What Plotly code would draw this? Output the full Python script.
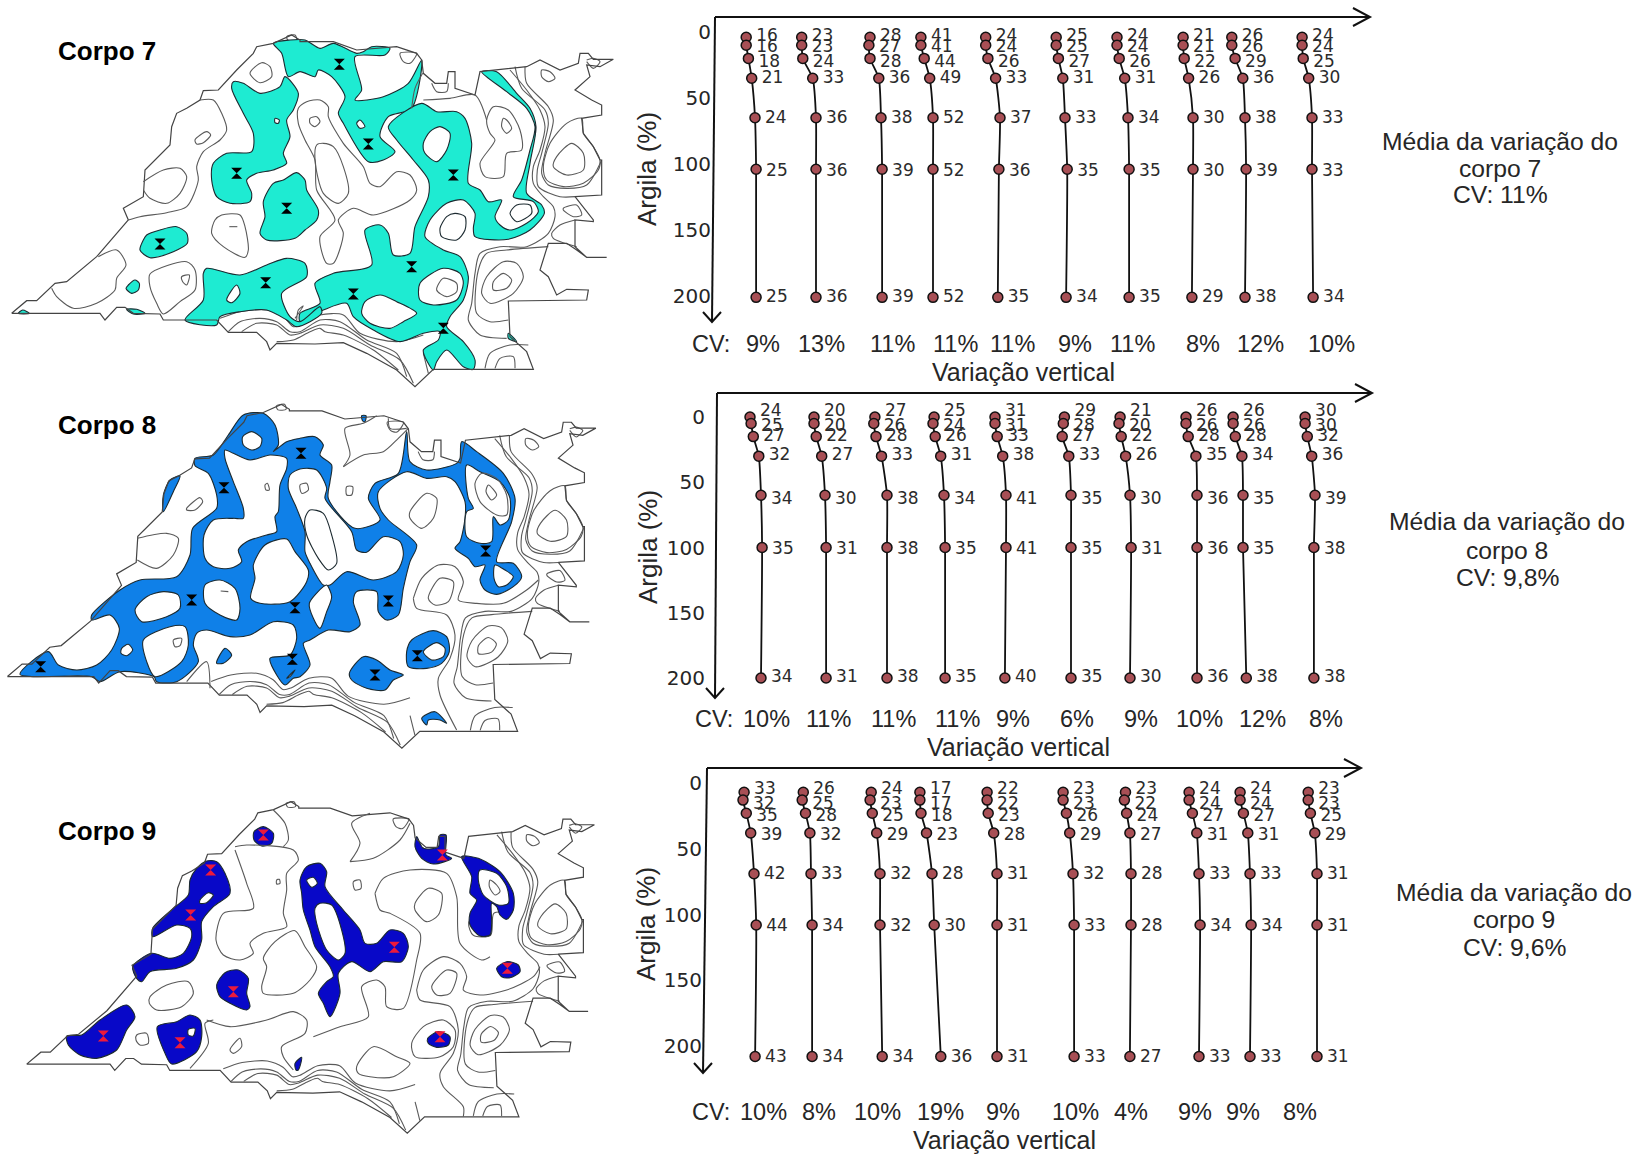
import plotly.graph_objects as go

W, H = 1646, 1155

# ---------------------------------------------------------------- profile data
DEPTH_ROWS = [
    [4, 10, 20, 35, 65, 104, 201],
    [0, 5, 15, 30, 60, 100, 200],
    [7, 13, 23, 38, 69, 108, 208],
]
CLAY_7 = [[16,16,18,21,24,25,25],[23,23,24,33,36,36,36],[28,27,28,36,38,39,39],[41,41,44,49,52,52,52],
          [24,24,26,33,37,36,35],[25,25,27,31,33,35,34],[24,24,26,31,34,35,35],[21,21,22,26,30,30,29],
          [26,26,29,36,38,39,38],[24,24,25,30,33,33,34]]
CLAY_8 = [[24,25,27,32,34,35,34],[20,20,22,27,30,31,31],[27,26,28,33,38,38,38],[25,24,26,31,34,35,35],
          [31,31,33,38,41,41,40],[29,28,27,33,35,35,35],[21,20,22,26,30,31,30],[26,26,28,35,36,36,36],
          [26,26,28,34,35,35,38],[30,30,32,36,39,38,38]]
CLAY_9 = [[33,32,35,39,42,44,43],[26,25,28,32,33,34,34],[24,23,25,29,32,32,34],[17,17,18,23,28,30,36],
          [22,22,23,28,31,31,31],[23,23,26,29,32,33,33],[23,22,24,27,28,28,27],[24,24,27,31,33,34,33],
          [24,24,27,31,33,34,33],[23,23,25,29,31,31,31]]
CV_7 = ["9%","13%","11%","11%","11%","9%","11%","8%","12%","10%"]
CV_8 = ["10%","11%","11%","11%","9%","6%","9%","10%","12%","8%"]
CV_9 = ["10%","8%","10%","19%","9%","10%","4%","9%","9%","8%"]
DEPTH_TICKS = [0, 50, 100, 150, 200]
BODY_NAMES = ["Corpo 7", "Corpo 8", "Corpo 9"]
MEAN_TEXT = [["Média da variação do", "corpo 7", "CV: 11%"],
             ["Média da variação do", "corpo 8", "CV: 9,8%"],
             ["Média da variação do", "corpo 9", "CV: 9,6%"]]

# ---------------------------------------------------------------- page layout (pixels)
ANCHOR_X = [[755,816,881,933,1000,1065,1128,1193,1245,1312],
            [761,825,887,944,1006,1071,1130,1197,1243,1315],
            [754,811,880,932,997,1073,1131,1199,1250,1317]]
CV_X = [[763,821,892,955,1012,1075,1132,1203,1260,1331],
        [766,829,893,957,1013,1077,1141,1199,1262,1326],
        [763,819,877,940,1003,1075,1131,1195,1243,1300]]
CV_LABEL_X = [711, 714, 711]
CV_Y = [344, 719, 1112]
VAR_POS = [(1023, 372), (1018, 747), (1004, 1140)]
AXIS_TOP = [(715, 17), (717, 393), (707, 768)]
AXIS_BOT = [(712, 322), (715, 698), (703, 1073)]
AXIS_TIP = [1370, 1372, 1361]
Y0_PX = [32, 417, 783]
Y_SCALE = [1.32, 1.305, 1.315]
TICK_GAP = [4, 12, 5]
LABEL_DY = [[-1, 3, 4, 1, 1, 2, 0], [-5, 3, 0, 0, 4, 2, 0], [-2, 5, 3, 3, 1, 2, 1]]
LABEL_DX = 10
ARG_POS = [(647, 169), (648, 547), (646, 924)]
MEAN_POS = [(1500, [141,168,195]), (1507, [522,550,577]), (1514, [892,919,947])]
BODY_Y = [51, 425, 831]
MAP_Y0 = [20, 395, 790]
MAP_H = [370, 360, 360]

def r(pts):
    return [(x + 900, y) for x, y in pts]

# ---------------------------------------------------------------- map geometry, shared base
OUTLINE = ([(35,880),(300,880),(315,900),(350,862),(375,862),(400,880),(480,882),(490,900),(650,900),(685,937),(770,937),
            (800,965),(810,990),(830,970),(945,972)]
           + r([(130,968),(200,1000),(290,1050),(345,1100),(400,1048),(700,1048),(680,995),(630,950),(625,843),(860,840),(865,810),
                (800,808),(770,825),(745,770),(720,750),(745,670),(800,670),(830,690),(860,712),(920,712),(860,712),
                (825,680),(825,600),(880,605),(880,600),(825,530),(905,525),(905,420),(900,420),(880,380),(850,340),(845,295),(905,285),(905,255),(875,240),
                (825,210),(870,170),(860,135),(900,140),(940,118),(880,118),(865,100),(840,100),(835,130),(780,150),(720,120),
                (680,140),(540,155),(525,225),(465,205),(465,155),(445,155),(440,190),(405,190),(370,160),(365,120),(350,100),
                (290,80),(170,90),(100,65),(0,65)])
           + [(900,60),(875,45),(820,70),(770,80),(760,100),(710,150),(655,210),(610,212),(600,240),(560,265),(530,280),
              (515,320),(510,375),(435,450),(430,530),(370,565),(385,600),(290,710),(200,785),(165,790),(110,842),(80,842),(35,880)])
BASE_LINES = [
    r([(630,150),(680,210),(720,270),(735,320),(720,390),(700,440),(700,490),(730,530),(760,560),(765,590),(745,640),(680,680),(600,680),(540,700),(525,760),(515,850),(505,900),(540,945),(620,955)]),
    r([(645,140),(665,205),(735,270),(745,310),(725,400),(712,450),(715,500),(780,530),(825,530)]),
    r([(675,140),(680,190),(745,260),(760,300),(735,400),(725,460),(745,495),(800,505),(860,495),(905,420)]),
    r([(845,295),(800,310),(750,370),(730,440),(740,480),(790,500),(850,490),(895,450),(900,420),(880,380),(850,340),(845,295)]),
    r([(815,370),(770,410),(760,440),(800,465),(850,450),(850,400),(815,370)]),
    r([(725,150),(750,155),(765,175),(745,185),(725,170),(725,150)]),
    r([(860,120),(880,115),(900,125),(880,145),(860,125)]),
    r([(790,565),(830,555),(845,585),(820,590),(790,570),(790,565)]),
    r([(825,600),(780,615),(755,640),(760,655),(830,680)]),
    r([(555,1045),(570,1000),(630,975),(685,975)]),
    r([(585,1045),(600,1015),(640,1010),(645,1045)]),
    r([(745,680),(620,690),(560,700),(535,750),(530,880),(570,905),(625,900)]),
    r([(610,725),(560,770),(545,820),(570,850),(640,820),(670,770),(650,730),(610,725)]),
    r([(610,760),(580,785),(580,810),(620,805),(635,780),(610,760)]),
    r([(580,260),(560,300),(570,340),(585,360),(540,430),(555,470),(610,470),(620,400),(665,390),(660,330),(625,270),(580,260)]),
    r([(610,295),(605,320),(620,340),(635,325),(620,300),(610,295)]),
    r([(395,190),(410,215),(440,215),(445,190)]),
    r([(300,100),(350,100),(330,130),(310,125),(300,100)]),
    [(860,50),(885,45),(890,60),(865,62),(860,50)],
    [(660,895),(720,875),(800,870),(850,890),(880,920),(905,915),(960,885)] + r([(130,885),(180,940),(290,965),(370,945)]),
    [(685,935),(720,905),(780,895),(830,905),(870,935),(900,935),(960,900)] + r([(120,905),(200,960),(290,1000),(320,1070)]),
    [(725,935),(770,910),(830,915),(870,945),(900,940),(960,915)] + r([(130,925),(210,975),(300,1020),(340,1090)]),
    [(830,965),(880,960),(930,935),(960,925)] + r([(75,935),(130,945),(220,990),(295,1050)]),
    r([(370,1000),(385,1060)]),
]
# per map transform of the base (scale, shift) u, v
BASE_TF = [(1, 0, 1, 0), (0.978, -12, 0.978, -16), (0.9436, 47, 0.9425, -7)]

# ---------------------------------------------------------------- map 7
F7 = [
    [(820,70),(870,60),(915,60)] + r([(60,85),(100,70),(170,100),(190,95),(215,80),(270,85),(255,105),(165,110),(185,210),(165,240),(250,230),(325,190),(365,120),(335,265),(265,290),(240,350),(285,395),(250,420),(205,425),(130,310),(115,280),(135,230),(95,170),(55,150)]) + [(945,170),(900,155),(865,170),(845,100),(820,70)],
    r([(365,250),(410,275),(470,275),(495,295),(515,370),(505,490),(540,510),(565,545),(605,540),(585,590),(600,615),(630,630),(680,610),(715,575),(700,545),(640,530),(665,480),(690,390),(705,320),(680,265),(620,215),(545,155),(590,155),(650,220),(690,265),(708,320),(690,430),(680,520),(725,555),(733,580),(690,630),(625,658),(525,650),(520,625),(525,580),(490,540),(440,550),(390,600),(375,650),(430,690),(480,710),(505,770),(490,840),(450,890),(440,920),(490,965),(525,1020),(520,1048),(490,1040),(440,990),(410,1025),(400,1050),(370,990),(415,960),(420,935),(370,940),(300,965),(220,930),(160,890),(140,850),(70,870),(0,905),(0,880),(60,850),(45,790),(100,760),(215,735),(195,630),(240,615),(265,640),(280,705),(330,700),(345,620),(385,530),(385,480),(340,420),(290,360),(265,320),(365,250)]),
    [(620,745),(720,765),(800,735),(860,715),(915,730),(920,770),(845,820),(870,890),(900,905),(960,860),(965,880),(890,920),(860,900),(800,870),(720,875),(660,890),(650,915),(555,900),(610,840),(610,760),(620,745)],
    [(700,185),(730,190),(780,220),(840,200),(855,170),(895,220),(880,270),(860,300),(870,350),(850,400),(860,430),(820,450),(770,460),(740,480),(755,520),(750,545),(690,550),(650,530),(635,480),(640,430),(680,400),(755,395),(760,340),(730,280),(695,205),(700,185)],
    [(890,458),(915,480),(920,510),(955,570),(950,600),(915,630),(885,655),(800,660),(780,640),(795,590),(790,545),(820,490),(850,480),(890,458)],
    [(440,645),(480,630),(530,620),(560,640),(562,670),(520,695),(450,713),(420,690),(430,660),(440,645)],
    [(385,795),(405,780),(418,790),(415,810),(395,820),(378,805),(385,795)],
    [(55,880),(68,870),(88,880),(55,880)],
    [(380,868),(410,868),(435,880),(400,882),(380,868)],
    r([(625,940),(650,965),(625,955),(625,940)]),
]
H7 = [
    r([(180,300),(195,320),(180,325),(170,310),(180,300)]),
    r([(420,320),(450,340),(440,390),(410,425),(375,400),(370,370),(390,335),(420,320)]),
    r([(465,580),(495,590),(495,630),(470,660),(425,650),(420,625),(440,590),(465,580)]),
    r([(650,555),(690,555),(695,580),(650,605),(630,580),(650,555)]),
    r([(430,745),(480,760),(490,790),(470,840),(400,855),(360,840),(360,790),(430,745)]),
    r([(240,825),(290,845),(350,880),(310,905),(270,925),(210,910),(185,880),(195,845),(240,825)]),
    [(825,295),(838,300),(835,310),(825,308),(825,295)],
    [(680,840),(710,795),(720,820),(695,848),(680,840)],
]
L7 = [
    r([(430,775),(470,790),(470,815),(440,830),(410,810),(430,775)]),
    [(600,240),(640,240),(665,280),(680,330),(660,360),(610,395),(590,440),(595,480),(560,560),(500,578),(420,590),(385,600)],
    [(430,485),(490,450),(540,445),(560,470),(540,520),(500,550),(450,535),(430,510)],
    [(585,360),(620,335),(632,345),(610,368),(590,372),(585,360)],
    [(665,585),(720,585),(735,620),(745,690),(735,712),(670,680),(635,640),(645,600),(665,585)],
    [(688,620),(712,620)],
    [(295,710),(350,690),(378,735),(350,775),(345,810),(290,850),(220,865),(170,830),(155,805)],
    [(450,762),(560,725),(585,750),(585,810),(540,845),(490,882),(470,850),(450,800),(450,762)],
    [(545,770),(568,765),(560,795),(548,785),(545,770)],
    [(785,128),(810,140),(815,170),(780,188),(750,160),(785,128)],
    [(885,895),(910,858),(895,870),(890,900)],
    r([(60,240),(20,245),(-5,265),(-5,310),(15,360),(45,420),(50,510),(105,600),(60,650),(80,730),(100,730),(130,640),(115,600),(160,565),(220,585),(330,540),(350,510),(330,465),(290,455),(240,500),(210,490),(190,440),(130,370),(85,290),(85,260),(60,240)]),
    r([(70,370),(100,380),(130,440),(145,520),(115,550),(70,520),(45,420),(50,375),(70,370)]),
    r([(30,295),(50,290),(60,305),(45,320),(30,310),(30,295)]),
    r([(370,240),(450,235),(525,225),(560,300)]),
    r([(335,265),(345,205),(368,160)]),
]
PINS_7 = [(710,460),(860,565),(480,672),(797,788)] + r([(118,133),(205,372),(460,465),(335,740),(160,822),(430,925)])

# ---------------------------------------------------------------- map 8
F8 = [
    [(275,675),(275,660),(360,585),(420,555),(530,545),(570,480),(578,400),(650,340),(650,300),(625,235),(585,212),(585,190),(640,180),(685,120),(730,60),(790,55),(825,90),(835,150),(820,170),(860,140),(900,130)]
    + r([(45,125),(70,150),(60,180),(95,210),(90,260),(85,310),(165,400),(240,375),(205,310),(225,265),(295,235),(320,110),(330,200),(380,225),(470,205),(480,190),(485,140),(530,170),(610,235),(645,310),(635,380),(590,500),(640,505),(665,545),(640,575),(590,598),(555,585),(540,555),(555,510),(525,515),(505,490),(465,460),(480,440),(495,370),(495,320),(465,260),(440,245),(380,250),(320,230),(235,290),(240,340),(265,375),(350,450),(330,500),(310,580),(295,660),(260,675),(235,650),(230,590),(170,590),(160,620),(180,690),(150,710),(85,705),(30,735),(10,745),(30,810),(0,845)])
    + [(880,850),(855,870),(830,840),(810,790),(870,780),(890,730),(880,690),(820,680),(750,720),(690,725),(620,705),(590,715),(580,750),(595,800),(530,860),(470,860),(462,845),(360,830),(300,860),(275,845),(60,838),(145,770),(175,810),(230,825),(290,810),(335,765),(358,700),(330,660),(275,675)],
    [(490,300),(510,255),(540,243),(520,290),(490,350),(490,300)],
    [(650,800),(675,760),(695,780),(670,805),(650,805),(650,800)],
    r([(320,770),(335,735),(400,707),(440,725),(448,770),(425,805),(380,820),(325,815),(320,770)]),
    r([(148,835),(190,785),(230,795),(270,825),(310,840),(280,855),(255,885),(200,880),(155,855),(148,835)]),
    r([(365,970),(405,950),(440,985),(420,975),(385,975),(380,990),(365,970)]),
    r([(185,62),(198,62),(195,80),(188,78),(185,62)]),
]
H8 = [
    [(755,110),(785,130),(780,155),(755,165),(730,150),(728,125),(755,110)],
    [(675,165),(700,175),(750,195),(810,180),(860,190),(860,220),(840,270),(835,350),(825,365),(830,410),(800,420),(740,440),(715,465),(725,500),(690,520),(640,515),(615,490),(612,420),(640,375),(700,370),(730,370),(730,340),(700,260),(675,190),(675,165)],
    [(870,240),(900,222),(950,225),(980,280),(975,310),(1055,410),(1070,465),(1100,472),(1150,425),(1200,440),(1210,480),(1190,530),(1120,555),(1040,530),(990,570),(970,570),(930,505),(915,470),(915,410),(890,340),(865,280),(870,240)],
    [(795,450),(860,432),(885,470),(925,525),(920,560),(870,620),(780,625),(752,610),(765,550),(760,510),(795,450)],
    [(615,570),(660,555),(705,580),(720,640),(710,675),(660,660),(615,625),(615,570)],
    [(405,645),(440,605),(490,590),(535,600),(540,640),(500,665),(425,680),(405,645)],
    [(430,735),(510,695),(555,695),(565,750),(545,800),(465,845),(440,800),(430,735)],
    [(365,760),(385,748),(398,765),(380,782),(363,775),(365,760)],
    [(928,625),(970,575),(980,570),(995,605),(980,650),(960,700),(940,670),(928,625)],
    [(860,850),(885,825),(870,845),(860,850)],
    r([(370,770),(410,743),(435,760),(430,785),(395,795),(370,770)]),
    r([(30,345),(70,355),(95,420),(110,505),(85,525),(55,490),(20,420),(15,370),(30,345)]),
    r([(500,210),(540,230),(600,260),(630,310),(625,375),(600,390),(580,365),(575,440),(540,445),(500,425),(500,350),(520,340),(505,310),(500,210)]),
    r([(585,510),(615,525),(640,545),(620,570),(595,575),(582,550),(585,510)]),
]
L8 = [
    r([(545,235),(590,250),(620,300),(620,360),(590,360),(540,320),(525,265),(545,235)]),
    r([(565,270),(590,300),(575,315),(558,290),(565,270)]),
    r([(0,270),(20,265),(25,285),(5,295),(0,270)]),
    r([(140,275),(158,275),(155,300),(140,300),(140,275)]),
    [(412,430),(500,415),(535,430),(520,480),(470,520),(412,495)],
    [(560,340),(600,308),(608,320),(585,345),(560,345),(560,340)],
    [(520,735),(545,730),(540,752),(525,755),(520,735)],
    [(795,270),(802,265),(808,285),(798,285),(795,270)],
    [(662,588),(685,590)],
    r([(130,215),(150,180),(135,100),(190,85),(230,62)]),
    r([(130,215),(190,180),(250,170),(295,130),(325,100)]),
    r([(265,70),(270,100),(320,100)]),
    r([(330,350),(380,295),(410,310),(400,370),(365,400),(330,370),(330,350)]),
    r([(340,610),(365,550),(415,510),(465,515),(490,560),(475,615),(530,625),(610,625),(680,585),(715,555)]),
    r([(385,610),(420,550),(460,560),(445,620),(405,630),(385,610)]),
    r([(340,610),(350,640),(440,660),(465,720),(450,790),(415,850),(420,900),(470,1005)]),
    [(560,860),(620,800),(630,880)],
]
PINS_8 = [(672,278),(903,175),(575,615),(885,638),(877,793),(122,815)] + r([(265,618),(352,782),(225,840),(557,468)])

# ---------------------------------------------------------------- map 9
F9 = [
    [(790,110),(820,130),(815,160),(785,168),(762,150),(762,125),(790,110)],
    [(620,213),(650,215),(675,250),(690,310),(640,350),(605,395),(605,450),(580,510),(530,535),(450,545),(425,575),(410,565),(398,530),(455,490),(510,505),(550,490),(575,440),(570,415),(530,405),(458,440),(458,415),(520,355),(565,315),(570,270),(590,235),(620,213)],
    [(650,585),(675,548),(715,540),(745,565),(740,610),(750,650),(740,660),(690,640),(660,620),(650,585)],
    [(200,738),(245,735),(300,690),(380,645),(405,680),(380,720),(350,780),(290,805),(240,795),(205,765),(200,738)],
    [(472,710),(530,695),(570,675),(600,690),(605,740),(590,785),(515,822),(495,790),(472,710)],
    [(885,820),(905,802),(895,840),(888,840),(885,820)],
    r([(0,270),(20,230),(60,220),(80,245),(75,290),(130,360),(180,420),(195,460),(230,460),(270,420),(310,430),(325,470),(305,515),(250,515),(210,545),(155,515),(115,550),(120,610),(90,680),(70,640),(55,610),(80,575),(100,560),(90,530),(45,470),(30,420),(10,360),(5,310),(0,270)]),
    r([(350,140),(370,175),(415,170),(420,135),(438,135),(438,195),(455,205),(400,222),(365,205),(345,170),(350,140)]),
    r([(485,200),(535,205),(600,245),(640,310),(640,360),(620,388),(600,375),(590,350),(575,340),(575,400),(570,435),(540,438),(510,405),(510,370),(530,330),(510,310),(515,260),(485,200)]),
    r([(590,535),(620,515),(655,525),(660,545),(630,563),(605,560),(590,535)]),
    r([(383,745),(415,725),(450,740),(445,765),(410,772),(385,760),(383,745)]),
]
H9 = [
    [(600,330),(625,308),(640,315),(620,338),(600,340),(600,330)],
    [(565,718),(585,715),(580,738),(565,735),(565,718)],
    r([(20,270),(40,262),(52,280),(35,292),(20,270)]),
    r([(60,340),(95,345),(125,420),(135,490),(115,510),(80,480),(50,400),(45,355),(60,340)]),
    r([(540,240),(590,250),(620,290),(625,340),(595,345),(550,315),(535,270),(540,240)]),
]
L9 = [
    r([(570,270),(590,285),(600,305),(585,315),(568,290),(570,270)]),
    r([(150,215),(180,160),(155,100),(210,70)]),
    r([(150,215),(220,205),(300,150),(330,100)]),
    r([(160,275),(180,270),(183,295),(165,300),(160,275)]),
    r([(225,310),(240,360),(270,370),(360,430),(350,510),(310,655),(260,650),(255,590),(230,570),(185,590),(205,680),(120,710),(40,740)]),
    r([(225,310),(250,265),(330,240),(440,250),(470,320),(480,460),(545,510),(570,500)]),
    r([(345,340),(385,295),(425,310),(415,375),(380,395),(345,360),(345,340)]),
    r([(350,600),(370,540),(430,500),(480,520),(500,560),(490,600),(540,615),(620,600),(700,560),(720,530)]),
    r([(395,590),(440,540),(470,550),(450,610),(410,615),(395,590)]),
    r([(350,600),(360,630),(450,650),(475,720),(460,790),(420,850),(430,890),(490,950),(490,980)]),
    r([(335,760),(370,710),(430,690),(465,720),(460,770),(420,800),(345,800),(335,760)]),
    r([(170,830),(220,770),(290,800),(330,820),(280,860),(210,860),(175,850),(170,830)]),
    [(705,170),(740,165),(880,180),(895,210),(860,250),(860,300),(850,370),(860,410),(790,430),(750,460),(760,490),(720,510),(670,495),(648,450),(670,370),(760,355),(740,280),(705,180)],
    [(825,455),(885,422),(915,470),(950,530),(930,570),(880,610),(790,610),(785,590),(800,530),(790,505),(825,455)],
    [(450,620),(500,585),(565,575),(580,610),(545,650),(470,660),(448,640),(450,620)],
    [(410,735),(440,730),(445,760),(420,765),(408,750),(410,735)],
    [(620,690),(690,710),(800,690),(880,665),(920,690),(915,730),(845,770),(850,800),(880,840)],
    [(690,780),(720,745),(725,770),(700,790),(690,780)],
    [(570,835),(625,760),(615,700),(640,690)],
    [(820,60),(855,100),(865,150),(850,170)],
    [(830,270),(838,268),(840,280),(830,282),(830,270)],
]
PINS_9 = [(790,135),(632,240),(572,375),(700,605),(310,738),(540,758)] + r([(283,472),(427,195),(622,535),(420,740)])

MAP_FILLS = [F7, F8, F9]
MAP_HOLES = [H7, H8, H9]
MAP_LINES = [L7, L8, L9]
MAP_PINS = [PINS_7, PINS_8, PINS_9]
FILL_COLOR = ["#1EEBD2", "#0F80E8", "#0808C8"]
PIN_COLOR = ["#000000", "#000000", "#EC1A3C"]
EDGE = "#1c2a30"
CONTOUR = "#5a5a5a"

# ---------------------------------------------------------------- figure
fig = go.Figure()
layout = dict(width=W, height=H, margin=dict(l=0, r=0, t=0, b=0), paper_bgcolor="white", plot_bgcolor="rgba(0,0,0,0)",
              showlegend=False, hovermode=False)
annots, shapes = [], []

def text(s, x, y, size, family="Liberation Sans", color="#262626", bold=False, angle=0, xanchor="center"):
    annots.append(dict(text=f"<b>{s}</b>" if bold else s, x=x / W, y=1 - y / H, xref="paper", yref="paper", showarrow=False,
                       xanchor=xanchor, yanchor="middle", textangle=angle,
                       font=dict(size=size, family=family, color=color)))

def poly(ax, pts, closed_fill=None, color=CONTOUR, width=1.1, shape="spline", tf=(1, 0, 1, 0)):
    xs = [tf[0] * p[0] + tf[1] for p in pts]
    ys = [tf[2] * p[1] + tf[3] for p in pts]
    kw = dict(fill="toself", fillcolor=closed_fill) if closed_fill else {}
    fig.add_trace(go.Scatter(x=xs, y=ys, mode="lines", xaxis=f"x{ax}", yaxis=f"y{ax}", hoverinfo="skip",
                             line=dict(color=color, width=width, shape=shape, smoothing=0.8), **kw))

for i in range(3):
    ax = i + 1
    suffix = "" if ax == 1 else str(ax)
    y0, h = MAP_Y0[i], MAP_H[i]
    layout[f"xaxis{suffix}"] = dict(domain=[0, 620 / W], range=[0, 1860], visible=False, anchor=f"y{suffix}", fixedrange=True)
    layout[f"yaxis{suffix}"] = dict(domain=[1 - (y0 + h) / H, 1 - y0 / H], range=[h * 3, 0], visible=False, anchor=f"x{suffix}", fixedrange=True)
    tf = BASE_TF[i]
    for line in BASE_LINES:
        poly(ax, line, tf=tf)
    for f in MAP_FILLS[i]:
        poly(ax, f, closed_fill=FILL_COLOR[i], color=EDGE, width=1.1)
    for f in MAP_HOLES[i]:
        poly(ax, f, closed_fill="white", color=EDGE, width=1.1)
    poly(ax, OUTLINE, color="#444444", width=1.2, shape="linear", tf=tf)
    for line in MAP_LINES[i]:
        poly(ax, line)
    fig.add_trace(go.Scatter(x=[p[0] for p in MAP_PINS[i]], y=[p[1] for p in MAP_PINS[i]], mode="markers",
                             xaxis=f"x{ax}", yaxis=f"y{ax}", hoverinfo="skip",
                             marker=dict(symbol="hourglass", size=11, color=PIN_COLOR[i], line=dict(width=0))))
    text(BODY_NAMES[i], 56, BODY_Y[i], 26, bold=True, color="#000000", xanchor="left")

CLAY = [CLAY_7, CLAY_8, CLAY_9]
CVS = [CV_7, CV_8, CV_9]
PX_PER_UNIT = 1.1
HALF = 44
next_x = 4
for i in range(3):
    yn = 4 + i
    top, bot = AXIS_TOP[i], AXIS_BOT[i]
    y_lo = (top[1] - Y0_PX[i]) / Y_SCALE[i]
    y_hi = (bot[1] - Y0_PX[i]) / Y_SCALE[i]
    layout[f"yaxis{yn}"] = dict(domain=[1 - bot[1] / H, 1 - top[1] / H], range=[y_hi, y_lo], anchor="free",
                                position=(top[0] - TICK_GAP[i]) / W, side="left", tickmode="array", tickvals=DEPTH_TICKS,
                                ticktext=[str(t) for t in DEPTH_TICKS], showgrid=False, zeroline=False, showline=False,
                                ticks="", tickfont=dict(size=20, family="DejaVu Sans", color="#262626"), fixedrange=True)
    for j, vals in enumerate(CLAY[i]):
        xn = next_x
        next_x += 1
        ax_px = ANCHOR_X[i][j]
        centre = vals[4]
        layout[f"xaxis{xn}"] = dict(domain=[(ax_px - HALF) / W, (ax_px + HALF) / W],
                                    range=[centre - HALF / PX_PER_UNIT, centre + HALF / PX_PER_UNIT],
                                    visible=False, anchor=f"y{yn}", fixedrange=True)
        fig.add_trace(go.Scatter(x=vals, y=DEPTH_ROWS[i], mode="lines+markers", xaxis=f"x{xn}", yaxis=f"y{yn}",
                                 cliponaxis=False, hoverinfo="skip",
                                 line=dict(color="#111111", width=1.8, shape="spline", smoothing=0.6),
                                 marker=dict(size=10, color="#A84F55", line=dict(color="#111111", width=1.5))))
        fig.add_trace(go.Scatter(x=[v + LABEL_DX / PX_PER_UNIT for v in vals],
                                 y=[d + s / Y_SCALE[i] for d, s in zip(DEPTH_ROWS[i], LABEL_DY[i])],
                                 mode="text", xaxis=f"x{xn}", yaxis=f"y{yn}",
                                 text=[str(v) for v in vals], textposition="middle right", cliponaxis=False,
                                 textfont=dict(size=17, family="DejaVu Sans", color="#2b2b2b"), hoverinfo="skip"))
        text(CVS[i][j], CV_X[i][j], CV_Y[i], 23.5)
    text("CV:", CV_LABEL_X[i], CV_Y[i], 23.5)
    text("Variação vertical", VAR_POS[i][0], VAR_POS[i][1], 25)
    text("Argila (%)", ARG_POS[i][0], ARG_POS[i][1], 26, angle=-90)
    for k, s in enumerate(MEAN_TEXT[i]):
        text(s, MEAN_POS[i][0], MEAN_POS[i][1][k], 24.7)
    # axis arrows
    tx = AXIS_TIP[i]
    segs = [[top, (tx, top[1])], [(tx - 17, top[1] - 9), (tx, top[1]), (tx - 17, top[1] + 9)],
            [top, bot], [(bot[0] - 9, bot[1] - 10), bot, (bot[0] + 9, bot[1] - 10)]]
    for seg in segs:
        path = "M" + " L".join(f"{p[0] / W:.5f},{1 - p[1] / H:.5f}" for p in seg)
        shapes.append(dict(type="path", path=path, xref="paper", yref="paper", line=dict(color="#111111", width=2)))

layout["annotations"] = annots
layout["shapes"] = shapes
fig.update_layout(**layout)
fig.write_html("out.html", post_script="document.body.style.margin='0';", config={"displayModeBar": False})
